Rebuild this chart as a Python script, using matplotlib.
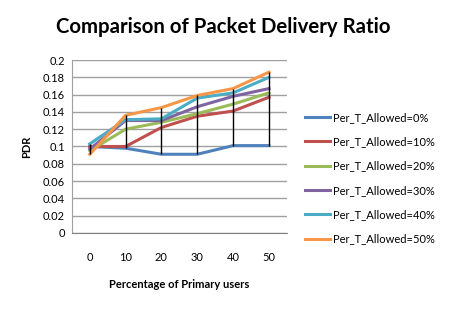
import matplotlib
matplotlib.use("Agg")
import matplotlib.pyplot as plt
import numpy as np

plt.rcParams['font.family'] = ['Lato', 'DejaVu Sans']

x_labels = ['0', '10', '20', '30', '40', '50']
x_vals = [0, 10, 20, 30, 40, 50]
series_names = ['Per_T_Allowed=0%', 'Per_T_Allowed=10%', 'Per_T_Allowed=20%',
                'Per_T_Allowed=30%', 'Per_T_Allowed=40%', 'Per_T_Allowed=50%']
pdr_0 = [0.100, 0.098, 0.091, 0.091, 0.101, 0.101]
pdr_10 = [0.100, 0.100, 0.122, 0.135, 0.141, 0.157]
pdr_20 = [0.095, 0.120, 0.128, 0.138, 0.149, 0.162]
pdr_30 = [0.097, 0.130, 0.130, 0.146, 0.158, 0.167]
pdr_40 = [0.103, 0.131, 0.132, 0.156, 0.162, 0.180]
pdr_50 = [0.091, 0.136, 0.145, 0.159, 0.167, 0.186]
colors = ['#4F81BD', '#C0504D', '#9BBB59', '#8064A2', '#4BACC6', '#F79646']

all_series = [pdr_0, pdr_10, pdr_20, pdr_30, pdr_40, pdr_50]

fig = plt.figure(figsize=(4.49, 3.11), dpi=100)
ax = fig.add_axes([0.160, 0.251, 0.479, 0.556])

for vals, c, name in zip(all_series, colors, series_names):
    ax.plot(x_vals, vals, color=c, lw=2.2, label=name, zorder=3)

arr = np.array(all_series)
ax.vlines(x_vals, arr.min(axis=0), arr.max(axis=0), color='black', lw=1.0, zorder=4)

ax.set_xlim(-5, 55)
ax.set_ylim(0, 0.2)
ax.set_yticks(np.arange(0, 0.201, 0.02))
ax.set_yticklabels(['0', '0.02', '0.04', '0.06', '0.08', '0.1', '0.12', '0.14', '0.16', '0.18', '0.2'])
ax.set_xticks(x_vals)
ax.set_xticklabels(x_labels)
ax.yaxis.grid(True, color='#A0A0A0', lw=1.0)
ax.set_axisbelow(True)
for s in ['top', 'right']:
    ax.spines[s].set_visible(False)
ax.spines['left'].set_color('#A0A0A0')
ax.spines['bottom'].set_color('#808080')
ax.tick_params(axis='both', length=0, labelsize=8, colors='black')
ax.tick_params(axis='x', pad=14)
ax.tick_params(axis='y', pad=5)

ax.set_xlabel('Percentage of Primary users', fontsize=8, fontweight='bold', labelpad=11)
ax.set_ylabel('PDR', fontsize=8, fontweight='bold', labelpad=8)

fig.text(0.497, 0.913, 'Comparison of Packet Delivery Ratio', ha='center', va='center',
         fontsize=14.7, fontweight='bold')

fig.legend(loc='upper left', bbox_to_anchor=(0.670, 0.655), frameon=False,
           fontsize=8, handlelength=2.2, handletextpad=0.3, labelspacing=1.2,
           borderaxespad=0)

fig.savefig('out.png', dpi=100)
